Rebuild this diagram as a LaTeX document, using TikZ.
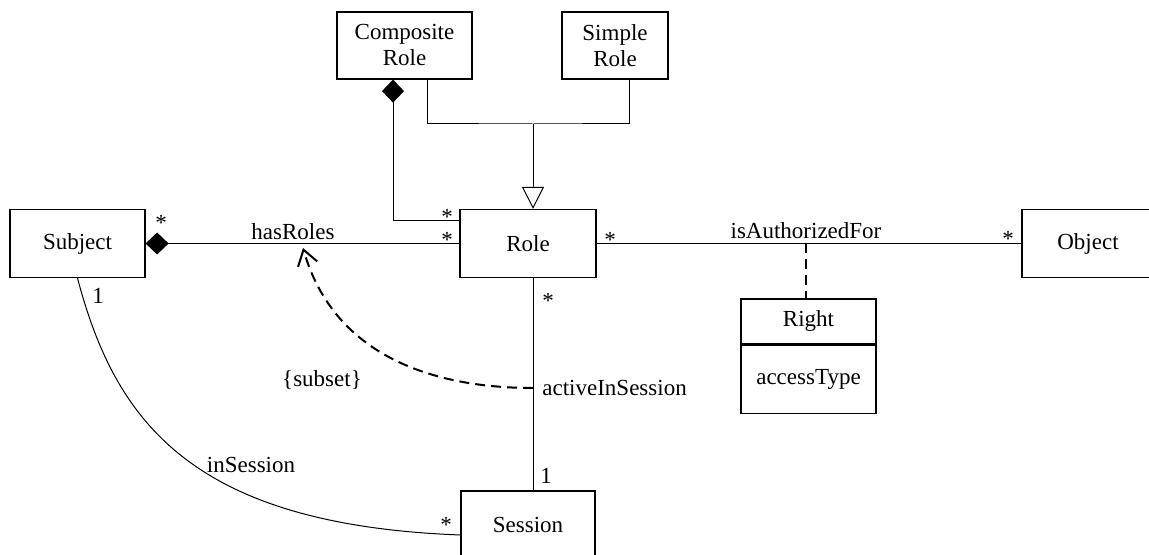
\documentclass[tikz,border=0pt]{standalone}
\usepackage{fontspec}
\setmainfont{Liberation Serif}
\usetikzlibrary{arrows.meta,calc}
\begin{document}
\begin{tikzpicture}[x=0.5pt,y=-0.5pt,
  box/.style={draw, line width=0.6pt, inner sep=0pt, align=center, font=\fontsize{11.5}{13}\selectfont},
  lbl/.style={inner sep=0pt, font=\fontsize{11.5}{13}\selectfont},
  conn/.style={line width=0.5pt},
  dashconn/.style={line width=1pt, dash pattern=on 5pt off 3pt},
  comp/.style={{Diamond[length=11.5pt,width=11pt]}-},
  gen/.style={-{Triangle[open,length=11pt,width=11pt]}},
  dep/.style={-{Straight Barb[length=7.5pt,width=10pt,line width=1pt]}}
]
\useasboundingbox (0,0) rectangle (1149,555);

% classes
\node[box, minimum width=67.5pt, minimum height=33.5pt] (cr) at (404.5,45.5) {Composite\\Role};
\node[box, minimum width=53pt, minimum height=33.5pt] (sr) at (615,45.5) {Simple\\Role};
\node[box, minimum width=68pt, minimum height=34pt] (role) at (528,243.5) {Role};
\node[box, minimum width=67.5pt, minimum height=34pt] (subj) at (77.5,243.5) {Subject};
\node[box, minimum width=66pt, minimum height=34pt] (obj) at (1088,243.5) {Object};
\node[box, minimum width=67.5pt, minimum height=22.5pt] (right) at (808.5,321.5) {Right};
\node[box, minimum width=67.5pt, minimum height=34pt, anchor=north] (rightatt) at (right.south) {accessType};
\node[box, minimum width=67pt, minimum height=34pt] (sess) at (528,525) {Session};

% helper coordinates
\coordinate (cx) at (393,221);
\coordinate (gl) at (427,124);
\coordinate (g) at (533,124);
\coordinate (gr) at (629,124);
\coordinate (ia) at (806,243.5);
\coordinate (ais) at (533,388);
\coordinate (hr) at (303,248);
\coordinate (ss) at (461,535);

% generalization
\draw[conn] (cr.south -| gl) |- (g) -| (sr.south -| gr);
\draw[conn, gen] (g) -- (role.north -| g);

% composite role composition
\draw[conn, comp] (cr.south -| cx) |- (role.west |- cx);

% hasRoles
\draw[conn, comp] (subj.east) -- (role.west);

% isAuthorizedFor
\draw[conn] (role.east) -- (obj.west);
\draw[dashconn] (ia) -- (ia |- right.north);

% activeInSession
\draw[conn] (role.south -| g) -- (sess.north -| g);

% subset
\draw[dashconn, dep] (ais) .. controls (440,388) and (335,360) .. (hr);

% inSession
\draw[conn] (subj.south) .. controls (115,420) and (190,525) .. (ss);

% labels
\node[lbl] (l1) at (293,232) {hasRoles};
\node[lbl] (l2) at (161,223) {*};
\node[lbl] (l3) at (447,217) {*};
\node[lbl] (l4) at (447,240) {*};
\node[lbl] (l5) at (806,231) {isAuthorizedFor};
\node[lbl] (l6) at (610,240) {*};
\node[lbl] (l7) at (1008,239) {*};
\node[lbl] (l8) at (548,301) {*};
\node[lbl] (l9) at (546,476) {1};
\node[lbl, anchor=west] (l10) at (542,388) {activeInSession};
\node[lbl] (l11) at (322,380) {\{subset\}};
\node[lbl] (l12) at (98,296) {1};
\node[lbl] (l13) at (251,465) {inSession};
\node[lbl] (l14) at (446,525) {*};
\end{tikzpicture}
\end{document}
